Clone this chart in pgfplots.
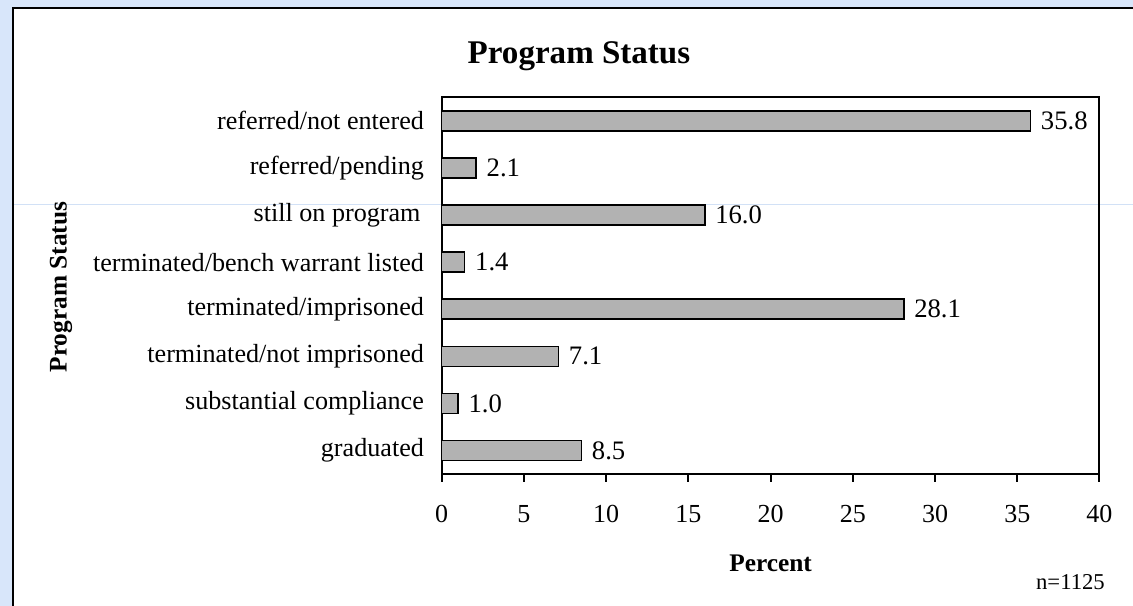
\documentclass[border=0pt]{standalone}
\usepackage{pgfplots}
\pgfplotsset{compat=1.18}
\usepackage{fontspec}
\setmainfont{Liberation Serif}
\definecolor{bgblue}{RGB}{216,230,250}
\definecolor{barfill}{RGB}{178,178,178}
\definecolor{faint}{RGB}{210,225,246}
\begin{document}
\begin{tikzpicture}
\begin{scope}[x=0.75pt,y=0.75pt]
\clip (0,0) rectangle (1133,606);
\fill[bgblue] (0,0) rectangle (1133,606);
\draw[line width=1.5pt, fill=white] (12.5,-20) rectangle (1150,597.5);
\draw[faint, line width=0.75pt] (14,401.7) -- (1133,401.7);
\end{scope}
\begin{axis}[
  at={(331.275pt,99pt)}, anchor=south west,
  scale only axis, width=493.35pt, height=282.5pt,
  xmin=0, xmax=40, ymin=0.5, ymax=8.5,
  xtick={0,5,...,40}, xtick pos=left,
  ytick=\empty, minor ytick={0.5,1.5,...,8.5}, ytick pos=left,
  tick align=outside, major tick length=6pt, minor tick length=5pt,
  axis line style={line width=1.5pt},
  every tick/.style={black, line width=1.5pt},
  /pgf/number format/assume math mode=true,
  ticklabel style={font=\fontsize{19.5pt}{22pt}\selectfont},
  xticklabel style={anchor=base, yshift=-30.5pt},
  extra y ticks={1,2,3,4,5,6,7,8},
  extra y tick labels={graduated, substantial compliance, terminated/not imprisoned, terminated/imprisoned, terminated/bench warrant listed, still on program\hspace*{2.5pt}, referred/pending, referred/not entered},
  extra y tick style={major tick length=0pt, yticklabel style={font=\fontsize{19.6pt}{22pt}\selectfont, xshift=-9.8pt}},
  every axis title shift=0pt,
  title={Program Status},
  title style={font=\fontsize{24.8pt}{27pt}\selectfont\bfseries, at={(axis description cs:0.2087,1.0903)}, anchor=base},
  xlabel={Percent},
  xlabel style={font=\fontsize{19pt}{22pt}\selectfont\bfseries, at={(axis description cs:0.5,-0.2594)}, anchor=base},
  ylabel={Program Status},
  ylabel style={font=\fontsize{19pt}{22pt}\selectfont\bfseries, at={(axis description cs:-0.5788,0.4964)}, anchor=center},
  point meta=x,
  nodes near coords={\pgfmathprintnumber[fixed,fixed zerofill,precision=1]{\pgfplotspointmeta}},
  nodes near coords align={horizontal},
  every node near coord/.append style={font=\fontsize{20pt}{22pt}\selectfont, xshift=4pt, black},
  clip=false,
]
\addplot[xbar, bar width=15pt, fill=barfill, draw=black, line width=1.1pt]
  coordinates {(8.5,1) (1.0,2) (7.1,3) (28.1,4) (1.4,5) (16.0,6) (2.1,7) (35.8,8)};
\node[anchor=base east, inner sep=0pt, font=\fontsize{17pt}{20pt}\selectfont] at (axis description cs:1.0084,-0.3079) {n=1125};
\end{axis}
\end{tikzpicture}
\end{document}
